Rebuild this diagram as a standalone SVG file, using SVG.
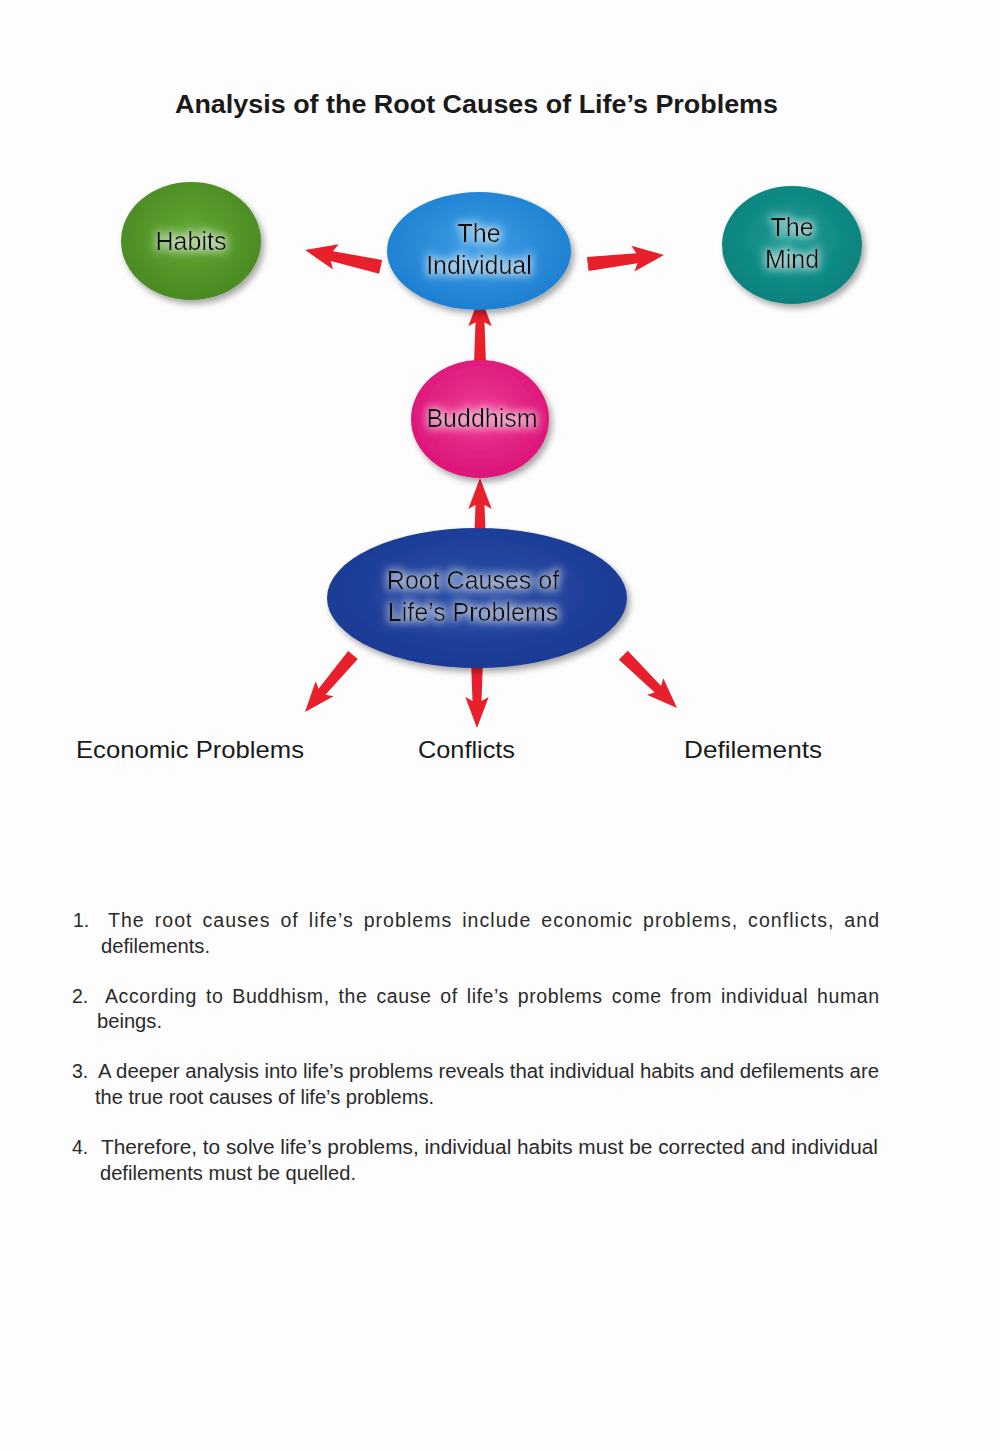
<svg xmlns="http://www.w3.org/2000/svg" xmlns:xlink="http://www.w3.org/1999/xlink" width="1000" height="1451" viewBox="0 0 1000 1451">
<defs>
<style>
.node-label{font-family:"Liberation Sans",Arial,sans-serif;font-size:25px;fill:#111;text-anchor:middle;filter:url(#glow)}
.title{font-family:"Liberation Sans",Arial,sans-serif;font-size:26px;font-weight:bold;fill:#1a1a1a}
.label{font-family:"Liberation Sans",Arial,sans-serif;font-size:24px;fill:#1a1a1a}
.para{font-family:"Liberation Sans",Arial,sans-serif;font-size:19.5px;fill:#2a2a2a}
.arrow{fill:#e8202c}
</style>
<filter id="sh" x="-20%" y="-20%" width="150%" height="150%">
<feDropShadow dx="3" dy="4" stdDeviation="3" flood-color="#000" flood-opacity="0.35"/>
</filter>
<filter id="glow" x="-20%" y="-50%" width="140%" height="200%">
<feMorphology in="SourceAlpha" operator="dilate" radius="2" result="d"/>
<feGaussianBlur in="d" stdDeviation="4" result="b"/>
<feFlood flood-color="#ffffff" flood-opacity="0.55"/>
<feComposite in2="b" operator="in" result="g"/>
<feMerge><feMergeNode in="g"/><feMergeNode in="SourceGraphic"/></feMerge>
</filter>
<radialGradient id="gGreen" cx="50%" cy="45%" r="55%"><stop offset="0" stop-color="#62a834"/><stop offset="1" stop-color="#4a8a22"/></radialGradient>
<radialGradient id="gBlue" cx="50%" cy="45%" r="55%"><stop offset="0" stop-color="#3d9ee4"/><stop offset="1" stop-color="#1d7fd2"/></radialGradient>
<radialGradient id="gTeal" cx="50%" cy="45%" r="55%"><stop offset="0" stop-color="#1a9a93"/><stop offset="1" stop-color="#0b827d"/></radialGradient>
<radialGradient id="gPink" cx="50%" cy="45%" r="55%"><stop offset="0" stop-color="#ec3c92"/><stop offset="1" stop-color="#dc1479"/></radialGradient>
<radialGradient id="gNavy" cx="50%" cy="45%" r="55%"><stop offset="0" stop-color="#2a4ea6"/><stop offset="1" stop-color="#1a3a94"/></radialGradient>
<path id="arr" d="M0,0 L-31,-13 L-27,-5 L-76,-7 L-76,7 L-27,5 L-31,13 Z"/>
</defs>
<rect width="1000" height="1451" fill="#fdfdfd"/>
<text class="title" x="175" y="113" textLength="603" lengthAdjust="spacingAndGlyphs">Analysis of the Root Causes of Life’s Problems</text>

<g id="connectors" class="arrow">
<use xlink:href="#arr" href="#arr" transform="translate(305,250) rotate(192.6) scale(1.02,1)"/>
<use xlink:href="#arr" href="#arr" transform="translate(664,255) rotate(-6.7) scale(1.01,1)"/>
<use xlink:href="#arr" href="#arr" transform="translate(480,295) rotate(-90) scale(1.01,0.9)"/>
<use xlink:href="#arr" href="#arr" transform="translate(480,478) rotate(-90) scale(1,0.9)"/>
<use xlink:href="#arr" href="#arr" transform="translate(305,712) rotate(130.1) scale(0.98,0.9)"/>
<use xlink:href="#arr" href="#arr" transform="translate(477,728) rotate(90) scale(1,0.9)"/>
<use xlink:href="#arr" href="#arr" transform="translate(677,708) rotate(44.5) scale(0.99,0.9)"/>
</g>

<g id="node-habits">
<ellipse cx="191" cy="241" rx="70" ry="59" fill="url(#gGreen)" filter="url(#sh)"/>
<text class="node-label" x="191" y="250">Habits</text>
</g>
<g id="node-individual">
<ellipse cx="479" cy="251" rx="92" ry="59" fill="url(#gBlue)" filter="url(#sh)"/>
<text class="node-label" x="479" y="242">The</text>
<text class="node-label" x="479" y="274">Individual</text>
</g>
<g id="node-mind">
<ellipse cx="792" cy="245" rx="70" ry="59" fill="url(#gTeal)" filter="url(#sh)"/>
<text class="node-label" x="792" y="236">The</text>
<text class="node-label" x="792" y="268">Mind</text>
</g>
<g id="node-buddhism">
<ellipse cx="480" cy="419" rx="69" ry="59" fill="url(#gPink)" filter="url(#sh)"/>
<text class="node-label" x="482" y="427">Buddhism</text>
</g>
<g id="node-root">
<ellipse cx="477" cy="598" rx="150" ry="70" fill="url(#gNavy)" filter="url(#sh)"/>
<text class="node-label" x="473" y="589">Root Causes of</text>
<text class="node-label" x="473" y="621">Life’s Problems</text>
</g>

<g id="node-economic"><text class="label" x="76" y="758" textLength="228" lengthAdjust="spacingAndGlyphs">Economic Problems</text></g>
<g id="node-conflicts"><text class="label" x="418" y="758" textLength="97" lengthAdjust="spacingAndGlyphs">Conflicts</text></g>
<g id="node-defilements"><text class="label" x="684" y="758" textLength="138" lengthAdjust="spacingAndGlyphs">Defilements</text></g>

<g id="notes" class="para">
<text x="73" y="927">1.</text>
<text x="108" y="927" word-spacing="3.5" textLength="771">The root causes of life’s problems include economic problems, conflicts, and</text>
<text x="101" y="953" textLength="109" lengthAdjust="spacingAndGlyphs">defilements.</text>
<text x="72" y="1003">2.</text>
<text x="105" y="1003" word-spacing="3" textLength="774">According to Buddhism, the cause of life’s problems come from individual human</text>
<text x="97" y="1028" textLength="65" lengthAdjust="spacingAndGlyphs">beings.</text>
<text x="72" y="1078">3.</text>
<text x="98" y="1078" textLength="781" lengthAdjust="spacingAndGlyphs">A deeper analysis into life’s problems reveals that individual habits and defilements are</text>
<text x="95" y="1104" textLength="339" lengthAdjust="spacingAndGlyphs">the true root causes of life’s problems.</text>
<text x="72" y="1154">4.</text>
<text x="101" y="1154" textLength="777" lengthAdjust="spacingAndGlyphs">Therefore, to solve life’s problems, individual habits must be corrected and individual</text>
<text x="100" y="1180" textLength="256" lengthAdjust="spacingAndGlyphs">defilements must be quelled.</text>
</g>
</svg>
